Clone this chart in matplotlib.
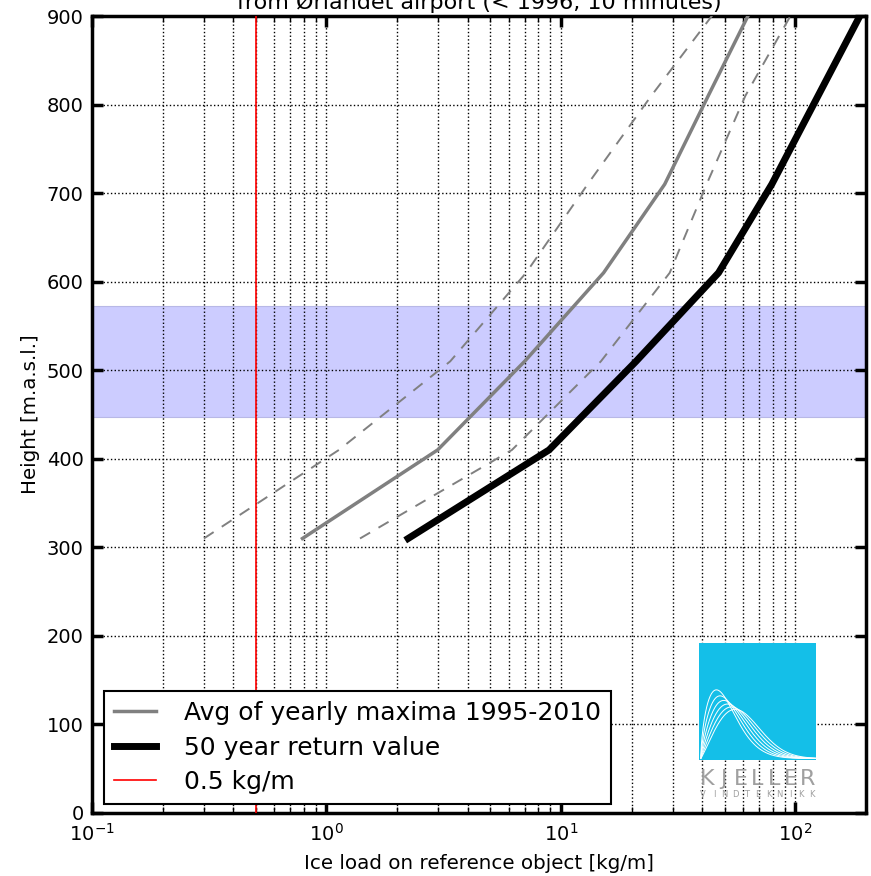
import numpy as np
import matplotlib
matplotlib.use("Agg")
import matplotlib.pyplot as plt

# ---------------- data ----------------
heights = [310, 410, 510, 610, 710, 810, 910]
avg_max = [0.79, 2.98, 7.0, 15.2, 27.7, 42.5, 65.5]
avg_low = [0.30, 1.13, 3.37, 7.1, 13.0, 24.3, 47.0]
avg_high = [1.39, 6.18, 14.8, 29.1, 41.8, 61.2, 100.0]
ret50 = [2.23, 8.9, 20.9, 47.0, 79.3, 125.0, 197.0]
threshold = 0.5
band = (447, 573)
xlim = (0.1, 200)
ylim = (0, 900)
yticks = [0, 100, 200, 300, 400, 500, 600, 700, 800, 900]
legend_labels = ["Avg of yearly maxima 1995-2010", "50 year return value", "0.5 kg/m"]
title = "from Ørlandet airport (< 1996, 10 minutes)"
xlabel = "Ice load on reference object [kg/m]"
ylabel = "Height [m.a.s.l.]"
logo_word = "KJELLER"
logo_sub = "VINDTEKNIKK"

W, H = 871, 876
fig = plt.figure(figsize=(W / 100, H / 100), dpi=100)
L, R, T, B = 92, 866, 16, 813
ax = fig.add_axes([L / W, 1 - B / H, (R - L) / W, (B - T) / H])

ax.set_xscale("log")
ax.set_xlim(*xlim)
ax.set_ylim(*ylim)

ax.axhspan(band[0], band[1], facecolor=(0.8, 0.8, 1.0), edgecolor=(0.72, 0.72, 0.9),
           lw=0.8, zorder=1)

ax.plot(avg_low, heights, color="gray", lw=1.4, ls=(0, (6, 5)), zorder=3)
ax.plot(avg_high, heights, color="gray", lw=1.4, ls=(0, (6, 5)), zorder=3)
l1, = ax.plot(avg_max, heights, color="gray", lw=2.5, zorder=4)
l2, = ax.plot(ret50, heights, color="black", lw=5, zorder=4)
l3 = ax.axvline(threshold, color="red", lw=1.2, zorder=4)

ax.set_yticks(yticks)
ax.grid(True, which="major", color="black", ls=":", lw=1.0, zorder=2)
ax.grid(True, which="minor", axis="x", color="black", ls=":", lw=1.0, zorder=2)
ax.set_axisbelow(False)
for s in ax.spines.values():
    s.set_linewidth(2.5)
ax.tick_params(which="major", direction="in", length=8, width=2.5,
               top=True, right=True, labelsize=14, pad=7)
ax.tick_params(axis="y", which="major", pad=6)
ax.tick_params(which="minor", direction="in", length=4, width=1,
               top=True, right=True)
ax.set_xlabel(xlabel, fontsize=14.3, labelpad=7)
ax.set_ylabel(ylabel, fontsize=14.3, labelpad=5)

leg = ax.legend([l1, l2, l3], legend_labels, loc="lower left",
                bbox_to_anchor=(11.5 / (R - L), 9 / (B - T)), borderaxespad=0,
                fontsize=18, handlelength=1.7, handletextpad=1.1,
                borderpad=0.4, labelspacing=0.42, fancybox=False,
                framealpha=1, edgecolor="black")
leg.get_frame().set_linewidth(1.5)
leg.set_zorder(10)

# title (cut off at top of the figure, as in the reference)
fig.text(0.5 * (L + R) / W, 1 - 9 / H, title, ha="center", va="baseline",
         fontsize=16)

# logo
lx0, ly0, lx1, ly1 = 699, 643, 816, 760
lax = fig.add_axes([lx0 / W, 1 - ly1 / H, (lx1 - lx0) / W, (ly1 - ly0) / H])
lax.set_facecolor("#14bfe8")
lax.set_xticks([])
lax.set_yticks([])
for s in lax.spines.values():
    s.set_visible(False)
t = np.linspace(0.001, 3.2, 200)
for k, sc in [(1.6, 0.8), (1.7, 0.9), (1.8, 1.0), (1.9, 1.1), (2.0, 1.2), (2.1, 1.3)]:
    pdf = (k / sc) * (t / sc) ** (k - 1) * np.exp(-(t / sc) ** k)
    lax.plot(t, pdf, color="white", lw=0.7)
lax.set_xlim(-0.05, 3.2)
lax.set_ylim(-0.02, 1.6)
n = len(logo_word)
for i, ch in enumerate(logo_word):
    xc = lx0 + 8 + i * (lx1 - lx0 - 16) / (n - 1)
    fig.text(xc / W, 1 - 785 / H, ch, ha="center", va="baseline",
             fontsize=16, color="#a0a0a0")
m = len(logo_sub)
for i, ch in enumerate(logo_sub):
    xc = lx0 + 4 + i * (lx1 - lx0 - 8) / (m - 1)
    fig.text(xc / W, 1 - 797 / H, ch, ha="center", va="baseline",
             fontsize=6, color="#a0a0a0")

fig.savefig("out.png", dpi=100)
